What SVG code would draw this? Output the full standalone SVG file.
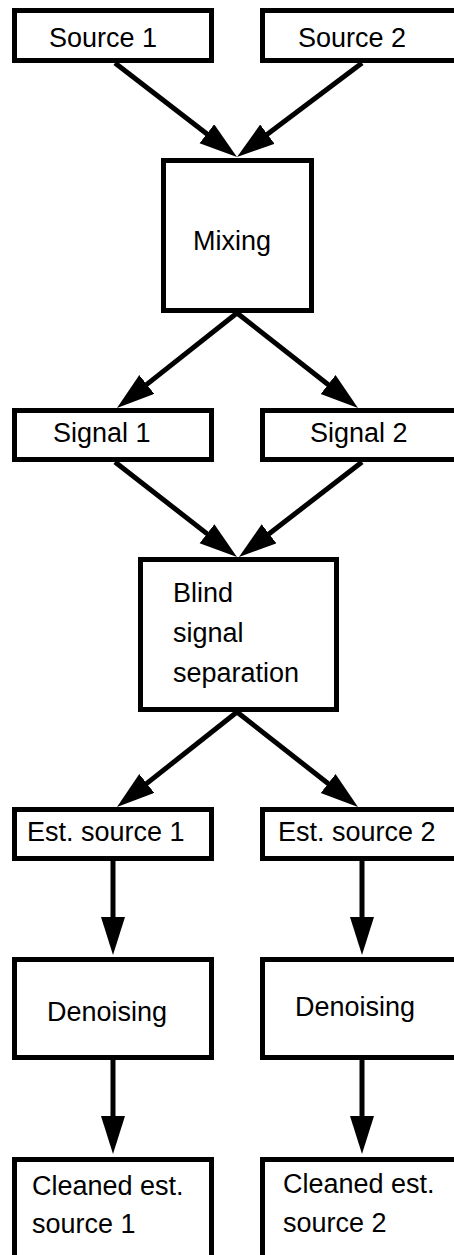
<svg xmlns="http://www.w3.org/2000/svg" width="454" height="1255" viewBox="0 0 454 1255">
<style>
.box{fill:#fff;stroke:#000;stroke-width:5}
.lbl{font-family:"Liberation Sans",Arial,sans-serif;font-size:27px;fill:#000}
.edge{stroke:#000;stroke-width:5;fill:none}
</style>
<defs>
<marker id="ah" markerUnits="userSpaceOnUse" markerWidth="40" markerHeight="26" refX="8" refY="12" orient="auto">
<path d="M0,0 L38,12 L0,24 z" fill="#000"/>
</marker>
</defs>
<rect width="454" height="1255" fill="#fff"/>
<g id="connectors">
<line class="edge" x1="115" y1="63" x2="213.2" y2="138.7" marker-end="url(#ah)"/>
<line class="edge" x1="362" y1="63" x2="261" y2="139" marker-end="url(#ah)"/>
<line class="edge" x1="237" y1="313" x2="140.5" y2="389.4" marker-end="url(#ah)"/>
<line class="edge" x1="237" y1="313" x2="334.4" y2="389.5" marker-end="url(#ah)"/>
<line class="edge" x1="115" y1="462" x2="213.3" y2="538.6" marker-end="url(#ah)"/>
<line class="edge" x1="362" y1="462" x2="262.7" y2="538.7" marker-end="url(#ah)"/>
<line class="edge" x1="237" y1="712" x2="140.5" y2="788.4" marker-end="url(#ah)"/>
<line class="edge" x1="237" y1="712" x2="334.4" y2="788.5" marker-end="url(#ah)"/>
<line class="edge" x1="113" y1="861" x2="113" y2="925" marker-end="url(#ah)"/>
<line class="edge" x1="362" y1="861" x2="362" y2="925" marker-end="url(#ah)"/>
<line class="edge" x1="113" y1="1060" x2="113" y2="1124" marker-end="url(#ah)"/>
<line class="edge" x1="362" y1="1060" x2="362" y2="1124" marker-end="url(#ah)"/>
</g>
<g id="source1"><rect class="box" x="14.5" y="10.5" width="197" height="50"/><text class="lbl" x="49" y="47">Source 1</text></g>
<g id="source2"><rect class="box" x="262.5" y="10.5" width="200" height="50"/><text class="lbl" x="298" y="47">Source 2</text></g>
<g id="mixing"><rect class="box" x="163.5" y="160.5" width="148" height="150"/><text class="lbl" x="193" y="250">Mixing</text></g>
<g id="signal1"><rect class="box" x="14.5" y="410.5" width="197" height="49"/><text class="lbl" x="53" y="442">Signal 1</text></g>
<g id="signal2"><rect class="box" x="262.5" y="410.5" width="200" height="49"/><text class="lbl" x="310" y="442">Signal 2</text></g>
<g id="bss"><rect class="box" x="140.5" y="559.5" width="196" height="150"/><text class="lbl" x="173" y="602">Blind</text><text class="lbl" x="173" y="642">signal</text><text class="lbl" x="173" y="682">separation</text></g>
<g id="est1"><rect class="box" x="14.5" y="809.5" width="197" height="49"/><text class="lbl" x="27" y="841">Est. source 1</text></g>
<g id="est2"><rect class="box" x="262.5" y="809.5" width="200" height="49"/><text class="lbl" x="278" y="841">Est. source 2</text></g>
<g id="denoise1"><rect class="box" x="14.5" y="959.5" width="197" height="98"/><text class="lbl" x="47" y="1021">Denoising</text></g>
<g id="denoise2"><rect class="box" x="262.5" y="959.5" width="200" height="98"/><text class="lbl" x="295" y="1016">Denoising</text></g>
<g id="cleaned1"><rect class="box" x="14.5" y="1159.5" width="197" height="120"/><text class="lbl" x="32" y="1195">Cleaned est.</text><text class="lbl" x="32" y="1233">source 1</text></g>
<g id="cleaned2"><rect class="box" x="262.5" y="1159.5" width="200" height="120"/><text class="lbl" x="283" y="1193">Cleaned est.</text><text class="lbl" x="283" y="1232">source 2</text></g>
</svg>
